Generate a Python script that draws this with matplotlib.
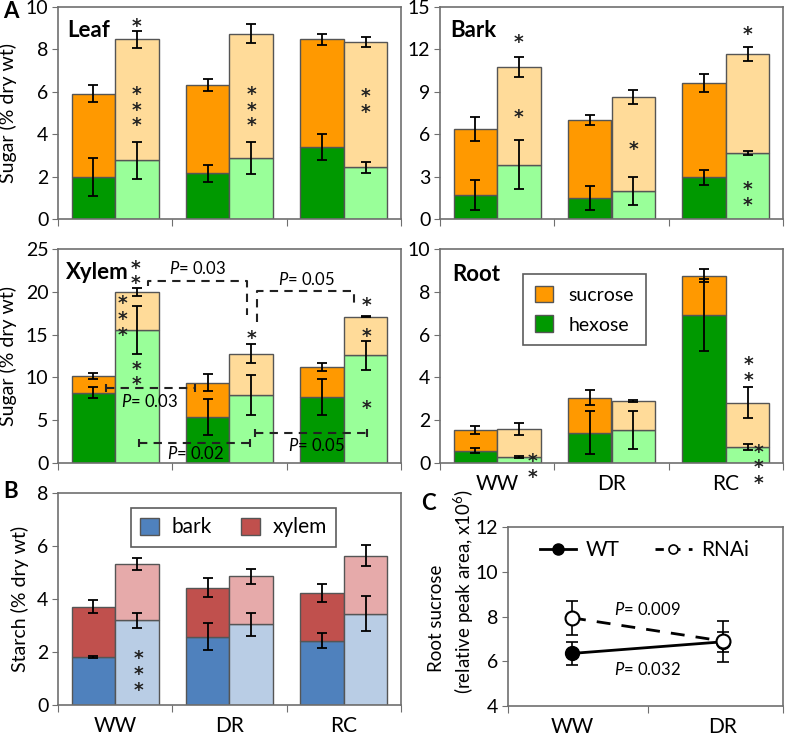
import numpy as np
import matplotlib
matplotlib.use("Agg")
import matplotlib.pyplot as plt
from matplotlib.patches import Patch
from matplotlib.lines import Line2D

plt.rcParams['font.family'] = ['Lato', 'DejaVu Sans']
plt.rcParams['mathtext.fontset'] = 'custom'
plt.rcParams['mathtext.rm'] = 'Lato'
plt.rcParams['mathtext.it'] = 'Lato:italic'

# ---------------- data ----------------
categories = ['WW', 'DR', 'RC']

# Leaf sugar (% dry wt)
leaf_wt_hex = [2.00, 2.15, 3.38]; leaf_wt_hex_err = [0.90, 0.40, 0.61]
leaf_wt_suc = [3.90, 4.18, 5.10]; leaf_wt_suc_err = [0.40, 0.28, 0.26]
leaf_rn_hex = [2.76, 2.87, 2.43]; leaf_rn_hex_err = [0.86, 0.75, 0.28]
leaf_rn_suc = [5.72, 5.87, 5.92]; leaf_rn_suc_err = [0.41, 0.44, 0.25]

# Bark sugar
bark_wt_hex = [1.70, 1.51, 2.97]; bark_wt_hex_err = [1.05, 0.86, 0.53]
bark_wt_suc = [4.66, 5.51, 6.64]; bark_wt_suc_err = [0.85, 0.35, 0.64]
bark_rn_hex = [3.84, 1.98, 4.64]; bark_rn_hex_err = [1.75, 1.00, 0.14]
bark_rn_suc = [6.92, 6.64, 7.04]; bark_rn_suc_err = [0.70, 0.50, 0.48]

# Xylem sugar
xyl_wt_hex = [8.23, 5.38, 7.68]; xyl_wt_hex_err = [0.68, 2.10, 2.10]
xyl_wt_suc = [1.91, 4.02, 3.51]; xyl_wt_suc_err = [0.37, 1.00, 0.45]
xyl_rn_hex = [15.56, 7.96, 12.56]; xyl_rn_hex_err = [2.80, 2.30, 1.73]
xyl_rn_suc = [4.44, 4.83, 4.52]; xyl_rn_suc_err = [0.49, 1.13, 0.05]

# Root sugar
root_wt_hex = [0.58, 1.41, 6.93]; root_wt_hex_err = [0.12, 1.00, 1.68]
root_wt_suc = [0.96, 1.65, 1.82]; root_wt_suc_err = [0.18, 0.36, 0.30]
root_rn_hex = [0.28, 1.54, 0.75]; root_rn_hex_err = [0.05, 0.90, 0.15]
root_rn_suc = [1.32, 1.36, 2.07]; root_rn_suc_err = [0.28, 0.05, 0.74]

# Starch (% dry wt)
st_wt_bark = [1.82, 2.58, 2.42]; st_wt_bark_err = [0.03, 0.51, 0.28]
st_wt_xyl = [1.89, 1.85, 1.81];  st_wt_xyl_err = [0.24, 0.36, 0.34]
st_rn_bark = [3.19, 3.05, 3.45]; st_rn_bark_err = [0.30, 0.44, 0.65]
st_rn_xyl = [2.12, 1.81, 2.19];  st_rn_xyl_err = [0.22, 0.29, 0.41]

# Root sucrose (relative peak area x10^6)
c_categories = ['WW', 'DR']
c_wt = [6.35, 6.87];   c_wt_err = [0.50, 0.45]
c_rnai = [7.94, 6.90]; c_rnai_err = [0.75, 0.92]

# ---------------- styles ----------------
C_SUC, C_HEX = '#FF9900', '#009900'
C_SUC_L, C_HEX_L = '#FFDB99', '#99FF99'
C_BARK, C_XYL = '#4F81BD', '#C0504D'
C_BARK_L, C_XYL_L = '#B9CDE5', '#E6AAAA'
EDGE = '#555555'
SPINE = '#6f6f6f'
W = 0.38
OFF_W, OFF_R = 0.31, 0.69

fig = plt.figure(figsize=(7.87, 7.38), dpi=100)


def px_axes(l, t, r, b):
    return fig.add_axes([l / 787, 1 - b / 738, (r - l) / 787, (b - t) / 738])


def style_axes(ax, ylim, yticks, xlabels=None, ncat=3, xlim=None):
    xlim = xlim if xlim is not None else (0, ncat)
    ax.set_xlim(*xlim)
    ax.set_ylim(*ylim)
    ax.set_yticks(yticks)
    for s in ax.spines.values():
        s.set_color(SPINE)
        s.set_linewidth(1.2)
    major = [xlim[0]] + list(range(1, ncat)) + [xlim[1]]
    ax.set_xticks(major)
    ax.set_xticklabels([])
    ax.tick_params(axis='x', which='major', length=5, color=SPINE, direction='out')
    ax.tick_params(axis='y', length=4, color=SPINE, labelsize=14, pad=3)
    ax.set_xticks(np.arange(ncat) + 0.5, minor=True)
    if xlabels is not None:
        ax.set_xticklabels(xlabels, minor=True)
        ax.tick_params(axis='x', which='minor', length=0, labelsize=15, pad=8)
    else:
        ax.tick_params(axis='x', which='minor', length=0)


def stacked(ax, lo_w, lo_we, hi_w, hi_we, lo_r, lo_re, hi_r, hi_re, cols):
    x = np.arange(len(lo_w))
    lo_w, hi_w, lo_r, hi_r = map(np.asarray, (lo_w, hi_w, lo_r, hi_r))
    kw = dict(width=W, edgecolor=EDGE, linewidth=1.0, zorder=2)
    ax.bar(x + OFF_W, lo_w, color=cols[0], **kw)
    ax.bar(x + OFF_W, hi_w, bottom=lo_w, color=cols[1], **kw)
    ax.bar(x + OFF_R, lo_r, color=cols[2], **kw)
    ax.bar(x + OFF_R, hi_r, bottom=lo_r, color=cols[3], **kw)
    ekw = dict(fmt='none', ecolor='black', elinewidth=1.3, capsize=3.6, capthick=1.3, zorder=4)
    ax.errorbar(x + OFF_W, lo_w, yerr=lo_we, **ekw)
    ax.errorbar(x + OFF_W, lo_w + hi_w, yerr=hi_we, **ekw)
    ax.errorbar(x + OFF_R, lo_r, yerr=lo_re, **ekw)
    ax.errorbar(x + OFF_R, lo_r + hi_r, yerr=hi_re, **ekw)


STAR_FS = 13.5


def stars(ax, x, y_top, n):
    """Vertical stack of n asterisks; y_top is the centre of the top one."""
    ax.annotate('\n'.join(['*'] * n), (x, y_top), xytext=(0, 2.4),
                textcoords='offset points', ha='center', va='top',
                fontsize=STAR_FS, family='DejaVu Sans', fontweight='bold',
                linespacing=0.78, color='#222222', annotation_clip=False, zorder=6)


sugar_cols = [C_HEX, C_SUC, C_HEX_L, C_SUC_L]

# ---------- Leaf ----------
ax = px_axes(58, 7, 401, 219)
stacked(ax, leaf_wt_hex, leaf_wt_hex_err, leaf_wt_suc, leaf_wt_suc_err,
        leaf_rn_hex, leaf_rn_hex_err, leaf_rn_suc, leaf_rn_suc_err, sugar_cols)
style_axes(ax, (0, 10), np.arange(0, 11, 2))
ax.set_ylabel('Sugar (% dry wt)', fontsize=14, labelpad=6)
ax.text(0.026, 0.89, 'Leaf', transform=ax.transAxes, fontsize=16, fontweight='bold', va='center')
stars(ax, 0.69, 9.39, 1)
stars(ax, 0.69, 6.17, 3)
stars(ax, 1.69, 6.17, 3)
stars(ax, 2.69, 6.06, 2)

# ---------- Bark ----------
ax = px_axes(440, 7, 783, 219)
stacked(ax, bark_wt_hex, bark_wt_hex_err, bark_wt_suc, bark_wt_suc_err,
        bark_rn_hex, bark_rn_hex_err, bark_rn_suc, bark_rn_suc_err, sugar_cols)
style_axes(ax, (0, 15), np.arange(0, 16, 3))
ax.text(0.03, 0.89, 'Bark', transform=ax.transAxes, fontsize=16, fontweight='bold', va='center')
stars(ax, 0.69, 12.95, 1)
stars(ax, 0.69, 7.6, 1)
stars(ax, 1.69, 5.37, 1)
stars(ax, 2.69, 13.5, 1)
stars(ax, 2.69, 2.5, 2)

# ---------- Xylem ----------
ax = px_axes(58, 249, 401, 463)
stacked(ax, xyl_wt_hex, xyl_wt_hex_err, xyl_wt_suc, xyl_wt_suc_err,
        xyl_rn_hex, xyl_rn_hex_err, xyl_rn_suc, xyl_rn_suc_err, sugar_cols)
style_axes(ax, (0, 25), np.arange(0, 26, 5))
ax.set_ylabel('Sugar (% dry wt)', fontsize=14, labelpad=6)
ax.text(0.023, 0.89, 'Xylem', transform=ax.transAxes, fontsize=16, fontweight='bold', va='center')
stars(ax, 0.68, 23.5, 2)
stars(ax, 0.56, 19.3, 3)
stars(ax, 0.69, 11.7, 2)
stars(ax, 1.69, 15.3, 1)
stars(ax, 2.70, 19.1, 1)
stars(ax, 2.70, 15.5, 1)
stars(ax, 2.70, 7.1, 1)
dkw = dict(color='#222222', lw=1.5, dashes=(4, 3), zorder=5, clip_on=False)
ax.plot([0.79, 0.79, 1.65, 1.65], [20.7, 21.3, 21.3, 17.3], **dkw)
ax.plot([1.74, 1.74, 2.59, 2.59], [16.5, 20.1, 20.1, 18.3], **dkw)
for (x0, x1, y) in [(0.42, 1.20, 8.78), (0.71, 1.68, 2.38), (1.72, 2.70, 3.51)]:
    ax.plot([x0, x1], [y, y], **dkw)
    ax.plot([x0, x1], [y, y], ls='none', marker='|', ms=6, mew=1.5, color='#222222', zorder=5)
pkw = dict(fontsize=12, ha='center', va='center', zorder=6)
ax.text(1.22, 22.7, '$\\it{P}$= 0.03', **pkw)
ax.text(2.17, 21.4, '$\\it{P}$= 0.05', **pkw)
ax.text(0.80, 7.2, '$\\it{P}$= 0.03', **pkw)
ax.text(1.20, 1.1, '$\\it{P}$= 0.02', **pkw)
ax.text(2.26, 2.1, '$\\it{P}$= 0.05', **pkw)

# ---------- Root ----------
ax = px_axes(440, 249, 783, 463)
stacked(ax, root_wt_hex, root_wt_hex_err, root_wt_suc, root_wt_suc_err,
        root_rn_hex, root_rn_hex_err, root_rn_suc, root_rn_suc_err, sugar_cols)
style_axes(ax, (0, 10), np.arange(0, 11, 2), xlabels=categories)
ax.text(0.035, 0.883, 'Root', transform=ax.transAxes, fontsize=16, fontweight='bold', va='center')
stars(ax, 0.81, 0.36, 2)
stars(ax, 2.70, 4.9, 2)
stars(ax, 2.79, 0.8, 3)
handles = [Patch(facecolor=C_SUC, edgecolor=EDGE, label='sucrose'),
           Patch(facecolor=C_HEX, edgecolor=EDGE, label='hexose')]
leg = ax.legend(handles=handles, loc='upper left', bbox_to_anchor=(0.242, 0.883),
                fontsize=14, frameon=True, fancybox=False, edgecolor='#333333',
                handlelength=0.95, handleheight=0.95, handletextpad=0.8,
                borderpad=0.6, labelspacing=0.6, borderaxespad=0)
leg.get_frame().set_linewidth(1.2)

# ---------- Starch (B) ----------
ax = px_axes(58, 493, 401, 705)
stacked(ax, st_wt_bark, st_wt_bark_err, st_wt_xyl, st_wt_xyl_err,
        st_rn_bark, st_rn_bark_err, st_rn_xyl, st_rn_xyl_err,
        [C_BARK, C_XYL, C_BARK_L, C_XYL_L])
style_axes(ax, (0, 8), np.arange(0, 9, 2), xlabels=categories)
ax.set_ylabel('Starch (% dry wt)', fontsize=14, labelpad=6)
stars(ax, 0.70, 1.97, 3)
handles = [Patch(facecolor=C_BARK, edgecolor=EDGE, label='bark'),
           Patch(facecolor=C_XYL, edgecolor=EDGE, label='xylem')]
leg = ax.legend(handles=handles, loc='upper left', bbox_to_anchor=(0.213, 0.929),
                ncol=2, fontsize=15, frameon=True, fancybox=False, edgecolor='#333333',
                handlelength=0.9, handleheight=0.9, handletextpad=0.6,
                columnspacing=1.4, borderpad=0.45, borderaxespad=0)
leg.get_frame().set_linewidth(1.2)

# ---------- C ----------
ax = px_axes(508, 527, 783, 706)
xc = np.arange(len(c_categories)) + 0.5
ax.errorbar(xc, c_wt, yerr=c_wt_err, fmt='none', ecolor='black', elinewidth=1.2,
            capsize=4, capthick=1.2, zorder=3)
ax.errorbar(xc, c_rnai, yerr=c_rnai_err, fmt='none', ecolor='black', elinewidth=1.2,
            capsize=4, capthick=1.2, zorder=3)
ax.plot(xc, c_wt, color='black', lw=2, marker='o', ms=10, mfc='black', mec='black', zorder=4)
ax.plot(xc, c_rnai, color='black', lw=2, dashes=(5, 4), marker='o', ms=10,
        mfc='white', mec='black', mew=1.5, zorder=5)
style_axes(ax, (4, 12), np.arange(4, 13, 2), xlabels=c_categories, ncat=2, xlim=(0.076, 1.897))
ax.text(1.0, 8.33, '$\\it{P}$= 0.009', fontsize=12, ha='center', va='center')
ax.text(1.0, 5.65, '$\\it{P}$= 0.032', fontsize=12, ha='center', va='center')
lh = [Line2D([], [], color='black', lw=2, marker='o', ms=8, mfc='black', label='WT'),
      Line2D([], [], color='black', lw=2, dashes=(3, 3), marker='o', ms=6.5, mfc='white',
             mew=1.2, label='RNAi')]
ax.legend(handles=lh, loc='center', bbox_to_anchor=(0.496, 0.872), ncol=2, frameon=False,
          fontsize=15, handlelength=1.75, columnspacing=1.7, handletextpad=0.45)
fig.text(436 / 787, 1 - 618 / 738, 'Root sucrose', rotation=90, fontsize=13.5,
         ha='center', va='center')
fig.text(464 / 787, 1 - 591 / 738, '(relative peak area, x10$^6$)', rotation=90, fontsize=13.5,
         ha='center', va='center')

# panel letters
fig.text(11 / 787, 1 - 12 / 738, 'A', fontsize=16, fontweight='bold', ha='center', va='center')
fig.text(11 / 787, 1 - 492 / 738, 'B', fontsize=16, fontweight='bold', ha='center', va='center')
fig.text(428 / 787, 1 - 503 / 738, 'C', fontsize=16, fontweight='bold', ha='center', va='center')

fig.savefig('out.png', dpi=100)
